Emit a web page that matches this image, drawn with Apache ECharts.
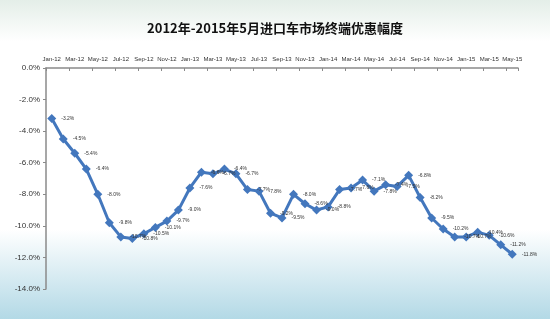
<!DOCTYPE html>
<html>
<head>
<meta charset="utf-8">
<script src="https://cdn.jsdelivr.net/npm/echarts@6/dist/echarts.min.js"></script>
<style>html,body{margin:0;padding:0;}#c{width:550px;height:319px;}</style>
</head>
<body>
<div id="c"></div>
<script>
const titleText = '2012年-2015年5月进口车市场终端优惠幅度';
const categories = [
  'Jan-12','Feb-12','Mar-12','Apr-12','May-12','Jun-12','Jul-12','Aug-12','Sep-12','Oct-12','Nov-12','Dec-12',
  'Jan-13','Feb-13','Mar-13','Apr-13','May-13','Jun-13','Jul-13','Aug-13','Sep-13','Oct-13','Nov-13','Dec-13',
  'Jan-14','Feb-14','Mar-14','Apr-14','May-14','Jun-14','Jul-14','Aug-14','Sep-14','Oct-14','Nov-14','Dec-14',
  'Jan-15','Feb-15','Mar-15','Apr-15','May-15'
];
const discount = [
  -3.2,-4.5,-5.4,-6.4,-8.0,-9.8,-10.7,-10.8,-10.5,-10.1,-9.7,-9.0,
  -7.6,-6.6,-6.7,-6.4,-6.7,-7.7,-7.8,-9.2,-9.5,-8.0,-8.6,-9.0,
  -8.8,-7.7,-7.6,-7.1,-7.8,-7.4,-7.5,-6.8,-8.2,-9.5,-10.2,-10.7,
  -10.7,-10.4,-10.6,-11.2,-11.8
];
const yMin = -14, yMax = 0, yStep = 2;

const chart = echarts.init(document.getElementById('c'), null, {renderer: 'canvas'});
chart.setOption({
  animation: false,
  backgroundColor: {
    type: 'linear', x: 0, y: 0, x2: 0, y2: 1,
    colorStops: [
      {offset: 0, color: '#e4eee8'},
      {offset: 0.13, color: '#ffffff'},
      {offset: 0.72, color: '#ffffff'},
      {offset: 1, color: '#b3d9e6'}
    ]
  },
  title: {
    text: titleText, left: 'center', top: 17,
    textStyle: {fontSize: 13, fontWeight: 'bold', color: '#111', fontFamily: 'Noto Sans CJK SC'}
  },
  grid: {left: 46, right: 32, top: 68, bottom: 30, containLabel: false},
  xAxis: {
    type: 'category', position: 'top', data: categories, boundaryGap: true,
    axisLine: {lineStyle: {color: '#8a8a8a', width: 1.5}},
    axisTick: {show: true, inside: true, length: 3, interval: 1, lineStyle: {color: '#8a8a8a'}},
    axisLabel: {interval: 1, fontSize: 6, color: '#333', margin: 6, fontFamily: 'Liberation Sans'},
    splitLine: {show: false}
  },
  yAxis: {
    type: 'value', min: yMin, max: yMax, interval: yStep,
    axisLine: {show: true, lineStyle: {color: '#8a8a8a', width: 1.5}},
    axisTick: {show: true, length: 3, lineStyle: {color: '#8a8a8a'}},
    axisLabel: {fontSize: 8, color: '#333', margin: 6, fontFamily: 'Liberation Sans',
      formatter: v => v.toFixed(1) + '%'},
    splitLine: {show: false}
  },
  series: [{
    type: 'line', data: discount,
    showAllSymbol: true,
    lineStyle: {color: '#4377bd', width: 3},
    itemStyle: {color: '#4377bd'},
    symbol: 'diamond', symbolSize: 9,
    label: {show: true, position: 'right', distance: 5, fontSize: 5, color: '#333',
      fontFamily: 'Liberation Sans', formatter: p => p.value.toFixed(1) + '%'},
    labelLayout: {hideOverlap: false}
  }]
});
</script>
</body>
</html>
